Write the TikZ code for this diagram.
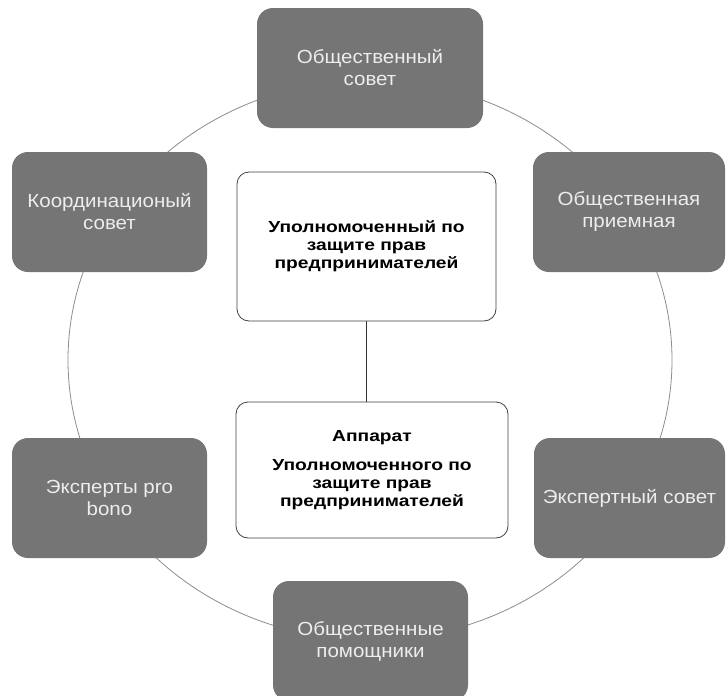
\documentclass[tikz,border=0pt]{standalone}
\usepackage{fontspec}
\setmainfont{Liberation Sans}[FakeStretch=1.08]
\newfontfamily\headfont{Liberation Sans}[FakeStretch=1.2]
\begin{document}
\begin{tikzpicture}[x=1pt, y=-1pt]
    \tikzstyle{ring} = [draw=black!45, line width=0.8pt]
    \tikzstyle{line} = [draw=black!80, line width=1pt]
    \tikzstyle{unit} = [rectangle, rounded corners=16pt, fill=black!54,
        text=black!7, align=center, minimum height=120pt,
        font=\fontsize{19}{22}\selectfont]
    \tikzstyle{head} = [rectangle, rounded corners=12pt, draw=black!75,
        line width=0.8pt, fill=white, align=center,
        font=\headfont\bfseries\fontsize{16}{18}\selectfont]

    \useasboundingbox (0,0) rectangle (726,696);
    \coordinate (ringcenter) at (370,360);
    \draw[ring] (ringcenter) ellipse [x radius=302pt, y radius=280pt];

    \node(sovet) [unit, minimum width=226pt] at (370,68)
        {Общественный\\ совет};
    \node(koord) [unit, minimum width=195pt] at (109.5,212)
        {Координационый\\ совет};
    \node(priem) [unit, minimum width=192pt] at (629,212)
        {Общественная\\ приемная};
    \node(probono) [unit, minimum width=195pt] at (109.5,498)
        {Эксперты pro\\ bono};
    \node(expsovet) [unit, minimum width=191pt] at (629.5,498)
        {Экспертный совет};
    \node(pomosh) [unit, minimum width=195pt] at (370.5,641)
        {Общественные\\ помощники};

    \node(upoln) [head, minimum width=259pt, minimum height=149pt]
        at (366.5,246.5)
        {Уполномоченный по\\ защите прав\\ предпринимателей};
    \node(apparat) [head, minimum width=272pt, minimum height=136pt]
        at (372,470)
        {Аппарат\\[11pt] Уполномоченного по\\ защите прав\\
        предпринимателей};

    \draw[line] (upoln.south) -- (upoln.south |- apparat.north);
\end{tikzpicture}
\end{document}
